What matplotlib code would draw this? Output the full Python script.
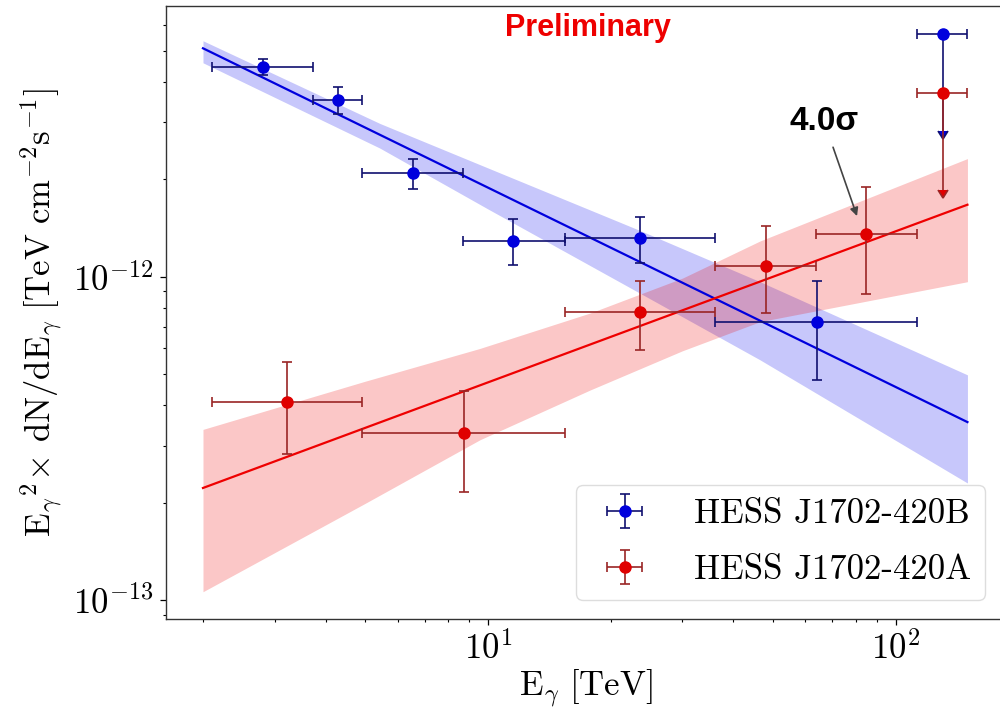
import numpy as np
import matplotlib
matplotlib.use("Agg")
from matplotlib import pyplot as plt
from matplotlib.ticker import NullFormatter

plt.rcParams['font.family'] = 'serif'
plt.rcParams['font.serif'] = ['cmr10']
plt.rcParams['mathtext.fontset'] = 'cm'
plt.rcParams['axes.unicode_minus'] = False
plt.rcParams['axes.formatter.use_mathtext'] = True

# flux points, HESS J1702-420B (blue)
b_e = [2.81, 4.29, 6.56, 11.5, 23.6, 64.2]
b_elo = [2.10, 3.73, 4.92, 8.70, 15.45, 36.0]
b_ehi = [3.73, 4.92, 8.70, 15.45, 36.0, 112.6]
b_f = [4.46e-12, 3.52e-12, 2.09e-12, 1.29e-12, 1.32e-12, 7.23e-13]
b_flo = [4.20e-12, 3.19e-12, 1.87e-12, 1.09e-12, 1.10e-12, 4.79e-13]
b_fhi = [4.72e-12, 3.85e-12, 2.32e-12, 1.51e-12, 1.53e-12, 9.70e-13]

# flux points, HESS J1702-420A (red)
a_e = [3.22, 8.73, 23.6, 48.1, 84.6]
a_elo = [2.10, 4.92, 15.45, 36.0, 63.7]
a_ehi = [4.92, 15.45, 36.0, 63.7, 112.6]
a_f = [4.11e-13, 3.28e-13, 7.76e-13, 1.08e-12, 1.355e-12]
a_flo = [2.82e-13, 2.16e-13, 5.93e-13, 7.74e-13, 8.84e-13]
a_fhi = [5.46e-13, 4.44e-13, 9.70e-13, 1.43e-12, 1.89e-12]

# upper limits in the last bin
ul_e = [130.4]
ul_elo = [112.6]
ul_ehi = [150.0]
b_ul = [5.63e-12]
a_ul = [3.71e-12]

# power-law fits and butterflies
fit_e = [2.0, 150.0]
b_fit = [5.09e-12, 3.55e-13]
a_fit = [2.22e-13, 1.67e-12]

b_band_e = [2.0, 5.43, 10.0, 23.6, 46.5, 150.0]
b_band_hi = [5.37e-12, 2.98e-12, 2.17e-12, 1.39e-12, 9.65e-13, 4.97e-13]
b_band_lo = [4.59e-12, 2.50e-12, 1.62e-12, 8.89e-13, 5.53e-13, 2.30e-13]

a_band_e = [2.0, 5.0, 9.56, 17.8, 30.0, 46.5, 150.0]
a_band_hi = [3.37e-13, 4.75e-13, 6.00e-13, 7.72e-13, 9.90e-13, 1.29e-12, 2.32e-12]
a_band_lo = [1.06e-13, 1.99e-13, 3.13e-13, 4.46e-13, 5.90e-13, 7.26e-13, 9.65e-13]

fig = plt.figure(figsize=(10, 7.11), dpi=100)
ax = fig.add_axes([0.166, 0.1294, 0.840, 0.8622])
ax.set_xscale('log')
ax.set_yscale('log')

ax.fill_between(b_band_e, b_band_lo, b_band_hi, color='#0000ee', alpha=0.22, lw=0, zorder=1)
ax.fill_between(a_band_e, a_band_lo, a_band_hi, color='#ee0000', alpha=0.22, lw=0, zorder=1)
ax.plot(fit_e, b_fit, color='#0000dd', lw=1.6, zorder=2)
ax.plot(fit_e, a_fit, color='#ee0000', lw=1.6, zorder=2)

def xerr(e, lo, hi):
    e = np.array(e)
    return [e - np.array(lo), np.array(hi) - e]

def yerr(f, lo, hi):
    f = np.array(f)
    return [f - np.array(lo), np.array(hi) - f]

ebkw = dict(fmt='o', ms=8, capsize=3.6, elinewidth=1.2, capthick=1.2, zorder=3)
ax.errorbar(b_e, b_f, xerr=xerr(b_e, b_elo, b_ehi), yerr=yerr(b_f, b_flo, b_fhi),
            color='#0000dd', ecolor='#101070', label='HESS J1702-420B', **ebkw)
ax.errorbar(a_e, a_f, xerr=xerr(a_e, a_elo, a_ehi), yerr=yerr(a_f, a_flo, a_fhi),
            color='#e00000', ecolor='#9a2525', label='HESS J1702-420A', **ebkw)
ax.errorbar(ul_e, b_ul, xerr=xerr(ul_e, ul_elo, ul_ehi), yerr=[0.5 * np.array(b_ul), [0]],
            uplims=True, color='#0000dd', ecolor='#101070', **ebkw)
ax.errorbar(ul_e, a_ul, xerr=xerr(ul_e, ul_elo, ul_ehi), yerr=[0.5 * np.array(a_ul), [0]],
            uplims=True, color='#e00000', ecolor='#9a2525', **ebkw)

ax.set_xlim(1.623, 186.5)
ax.set_ylim(8.73e-14, 6.88e-12)
ax.xaxis.set_minor_formatter(NullFormatter())
ax.yaxis.set_minor_formatter(NullFormatter())
ax.tick_params(which='major', labelsize=25, length=4, width=0.9, pad=5)
ax.tick_params(which='minor', length=2.5, width=0.8)
ax.set_xlabel(r'$\mathrm{E_\gamma\ [TeV]}$', fontsize=25, labelpad=1)
ax.set_ylabel(r'$\mathrm{E_\gamma}^2\!\times\,\mathrm{dN/dE_\gamma\ [TeV\ cm^{-2}s^{-1}]}$', fontsize=25, labelpad=6)
for s in ax.spines.values():
    s.set_linewidth(1.0)
    s.set_color('#333333')

leg = ax.legend(loc='lower right', bbox_to_anchor=(0.975, 0.031), borderaxespad=0,
                fontsize=25, framealpha=1, edgecolor='#dddddd', handletextpad=1.0,
                labelspacing=0.7)

fig.text(0.588, 0.9606, 'Preliminary', color='#ee0000', fontsize=22, fontweight='bold',
         family=['Liberation Sans', 'DejaVu Sans'], ha='center', va='center')
ax.annotate('4.0σ', xy=(80.4, 1.54e-12), xytext=(66.7, 3.03e-12),
            fontsize=24, fontweight='bold', family=['Liberation Sans', 'DejaVu Sans'],
            ha='center', va='center',
            arrowprops=dict(arrowstyle='-|>', color='#444444', lw=1.2, mutation_scale=12, shrinkA=6, shrinkB=0))

fig.savefig('out.png', dpi=100)
